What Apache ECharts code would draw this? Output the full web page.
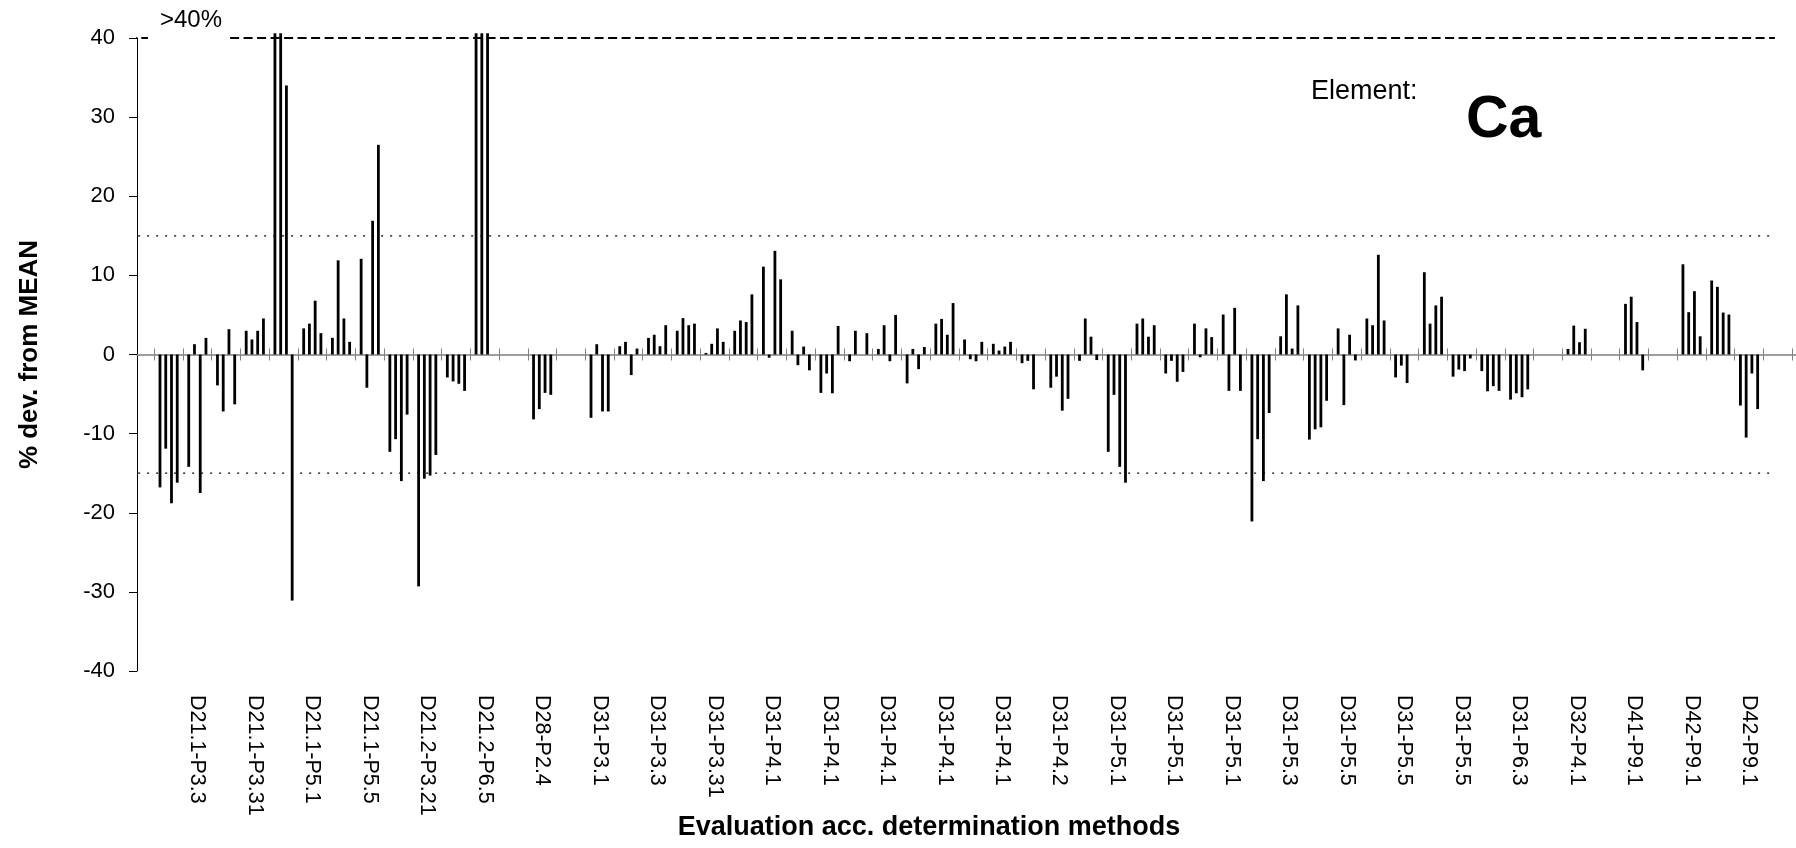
<!DOCTYPE html>
<html><head><meta charset="utf-8">
<script src="https://cdn.jsdelivr.net/npm/echarts@6/dist/echarts.min.js"></script>
<style>html,body{margin:0;padding:0;background:#fff}#c{width:1796px;height:848px}</style>
</head><body><div id="c"></div>
<script>
// Labels shown under every second lab group
var labLabels = ['D21.1-P3.3','D21.1-P3.31','D21.1-P5.1','D21.1-P5.5','D21.2-P3.21','D21.2-P6.5','D28-P2.4',
  'D31-P3.1','D31-P3.3','D31-P3.31','D31-P4.1','D31-P4.1','D31-P4.1','D31-P4.1','D31-P4.1','D31-P4.2',
  'D31-P5.1','D31-P5.1','D31-P5.1','D31-P5.3','D31-P5.5','D31-P5.5','D31-P5.5','D31-P6.3','D32-P4.1',
  'D41-P9.1','D42-P9.1','D42-P9.1'];
// % deviation from mean, four replicate results per lab group (values >40 shown capped)
var rep1 = [-16.8,-14.2,-3.9,3.0,40.6,3.3,2.1,12.1,-12.3,-29.3,-2.9,40.6,null,-8.2,null,-8.0,1.05,2.1,3.0,0.2,3.0,11.1,3.0,-4.85,-0.85,0.7,-3.65,3.9,1.9,1.35,-1.1,-4.2,-0.8,-12.3,3.9,-2.4,3.9,5.05,-21.1,2.3,-10.75,3.3,4.55,-2.9,10.4,-2.8,-2.1,-5.7,null,0.7,null,6.4,null,11.4,9.35,-6.45,null];
var rep2 = [-11.9,1.3,-7.2,1.9,40.6,3.9,11.9,-4.2,-10.7,-15.7,-3.4,40.6,null,-6.9,null,1.3,1.6,2.5,4.6,1.35,4.3,-0.4,-1.35,-2.4,3.0,3.7,0.7,4.5,-0.6,0.5,-0.8,-2.8,4.55,-5.1,4.55,-0.8,-0.35,-4.6,-10.7,7.6,-9.45,-6.4,3.7,-1.4,3.9,-1.9,-4.65,-4.9,null,3.65,null,7.3,null,5.35,8.55,-10.5,null];
var rep3 = [-18.8,-17.5,3.2,3.0,34.0,6.8,4.55,16.9,-16.0,-15.3,-3.7,40.6,null,-4.85,null,-7.2,-2.6,1.05,3.7,3.3,4.1,13.1,1.0,-4.9,null,-0.85,-1.85,2.5,-0.85,1.0,-4.4,-7.1,2.25,-14.2,2.25,-3.45,3.3,5.9,-16.0,0.75,-9.2,2.5,12.6,-3.6,6.2,-2.1,-4.0,-5.4,null,1.55,null,4.1,null,8.0,5.3,-2.4,null];
var rep4 = [-16.2,2.1,-6.3,4.55,-31.1,2.7,1.6,26.5,-7.6,-12.7,-4.6,null,null,-5.1,null,-7.2,0.75,3.7,3.9,1.6,7.6,9.5,-2.0,3.6,2.7,5.0,0.95,6.5,1.6,1.6,null,-5.6,-0.7,-16.2,3.7,-2.2,2.2,-4.6,-7.4,6.2,-5.85,-0.75,4.3,null,7.3,-0.5,-4.6,-4.4,null,3.25,null,-2.0,null,2.3,5.05,-6.9,null];
// reference levels
var capLevel = 40;
var limitLevels = [15, -15];
// extents of reference lines in slot units (1 slot = 1/5 of a lab group)
var capSegments = [[-1.6, 1.9], [16.2, 285]];
var limitSpan = [0.2, 285];

var labs = [];
for (var j = 0; j < rep1.length; j++) labs.push(j % 2 === 1 ? labLabels[(j - 1) / 2] : '');

var FONT = '"Liberation Sans", Arial, sans-serif';
var SLOT = 5.747, LEFT = 137, TOP = 38, BOTTOM = 177;
var slotsTotal = (1796 - LEFT) / SLOT;

function lineSeries(data, style) {
  return { type: 'line', xAxisIndex: 0, yAxisIndex: 0, data: data, symbol: 'none', clip: false,
    silent: true, animation: false, lineStyle: style, z: 1 };
}
var refSeries = [];
capSegments.forEach(function (s) {
  refSeries.push(lineSeries([[s[0], capLevel], [s[1], capLevel]], {color: '#000', width: 2, type: [9, 4.5]}));
});
limitLevels.forEach(function (v) {
  refSeries.push(lineSeries([[limitSpan[0], v], [limitSpan[1], v]], {color: '#000', width: 1.2, type: [2, 7]}));
});

function barSeries(d) {
  return { type: 'bar', xAxisIndex: 1, yAxisIndex: 1, data: d, barWidth: 2.8, barGap: '105.2%',
    itemStyle: {color: '#000'}, clip: false, animation: false, z: 3 };
}

var catAxisBase = { type: 'category', gridIndex: 1, data: labs, boundaryGap: true };
var option = {
  animation: false,
  backgroundColor: '#fff',
  grid: [
    {left: LEFT, right: 0, top: TOP, bottom: BOTTOM},
    {left: LEFT + 3 * SLOT, right: 1796 - (LEFT + 3 * SLOT + 57 * 5 * SLOT), top: TOP, bottom: BOTTOM}
  ],
  xAxis: [
    {type: 'value', gridIndex: 0, min: 0, max: slotsTotal, axisLine: {show: true, onZero: true, lineStyle: {color: '#808080', width: 1.5}},
      axisTick: {show: false}, axisLabel: {show: false}, splitLine: {show: false}},
    Object.assign({}, catAxisBase, {position: 'bottom', axisLine: {show: false, onZero: false}, axisTick: {show: false},
      axisLabel: {interval: 0, rotate: -90, margin: 24, color: '#000', fontFamily: FONT, fontSize: 21.5}}),
    Object.assign({}, catAxisBase, {axisLine: {show: false, onZero: true, onZeroAxisIndex: 1},
      axisTick: {show: true, interval: 0, length: 6, inside: false, lineStyle: {color: '#808080', width: 1}}, axisLabel: {show: false}}),
    Object.assign({}, catAxisBase, {axisLine: {show: false, onZero: true, onZeroAxisIndex: 1},
      axisTick: {show: true, interval: 0, length: 6, inside: true, lineStyle: {color: '#808080', width: 1}}, axisLabel: {show: false}})
  ],
  yAxis: [
    {type: 'value', gridIndex: 0, min: -40, max: 40, interval: 10,
      axisLine: {show: true, lineStyle: {color: '#000', width: 1}},
      axisTick: {show: true, length: 8, lineStyle: {color: '#000'}},
      axisLabel: {color: '#000', fontFamily: FONT, fontSize: 22, margin: 22},
      splitLine: {show: false},
      name: '% dev. from MEAN', nameLocation: 'middle', nameRotate: 90, nameGap: 94,
      nameTextStyle: {color: '#000', fontFamily: FONT, fontSize: 26, fontWeight: 'bold'}},
    {type: 'value', gridIndex: 1, min: -40, max: 40, interval: 10, show: false}
  ],
  series: refSeries.concat([barSeries(rep1), barSeries(rep2), barSeries(rep3), barSeries(rep4)]),
  graphic: [
    {type: 'text', x: 160, y: 20, style: {text: '>40%', font: '24px ' + FONT, fill: '#000', verticalAlign: 'middle'}},
    {type: 'text', x: 1311, y: 92, style: {text: 'Element:', font: '27px ' + FONT, fill: '#000', verticalAlign: 'middle'}},
    {type: 'text', x: 1466, y: 121, style: {text: 'Ca', font: 'bold 59px ' + FONT, fill: '#000', verticalAlign: 'middle'}},
    {type: 'text', x: 929, y: 828, style: {text: 'Evaluation acc. determination methods', font: 'bold 27px ' + FONT, fill: '#000', align: 'center', verticalAlign: 'middle'}}
  ]
};
var chart = echarts.init(document.getElementById('c'), null, {renderer: 'canvas'});
chart.setOption(option);
</script></body></html>
